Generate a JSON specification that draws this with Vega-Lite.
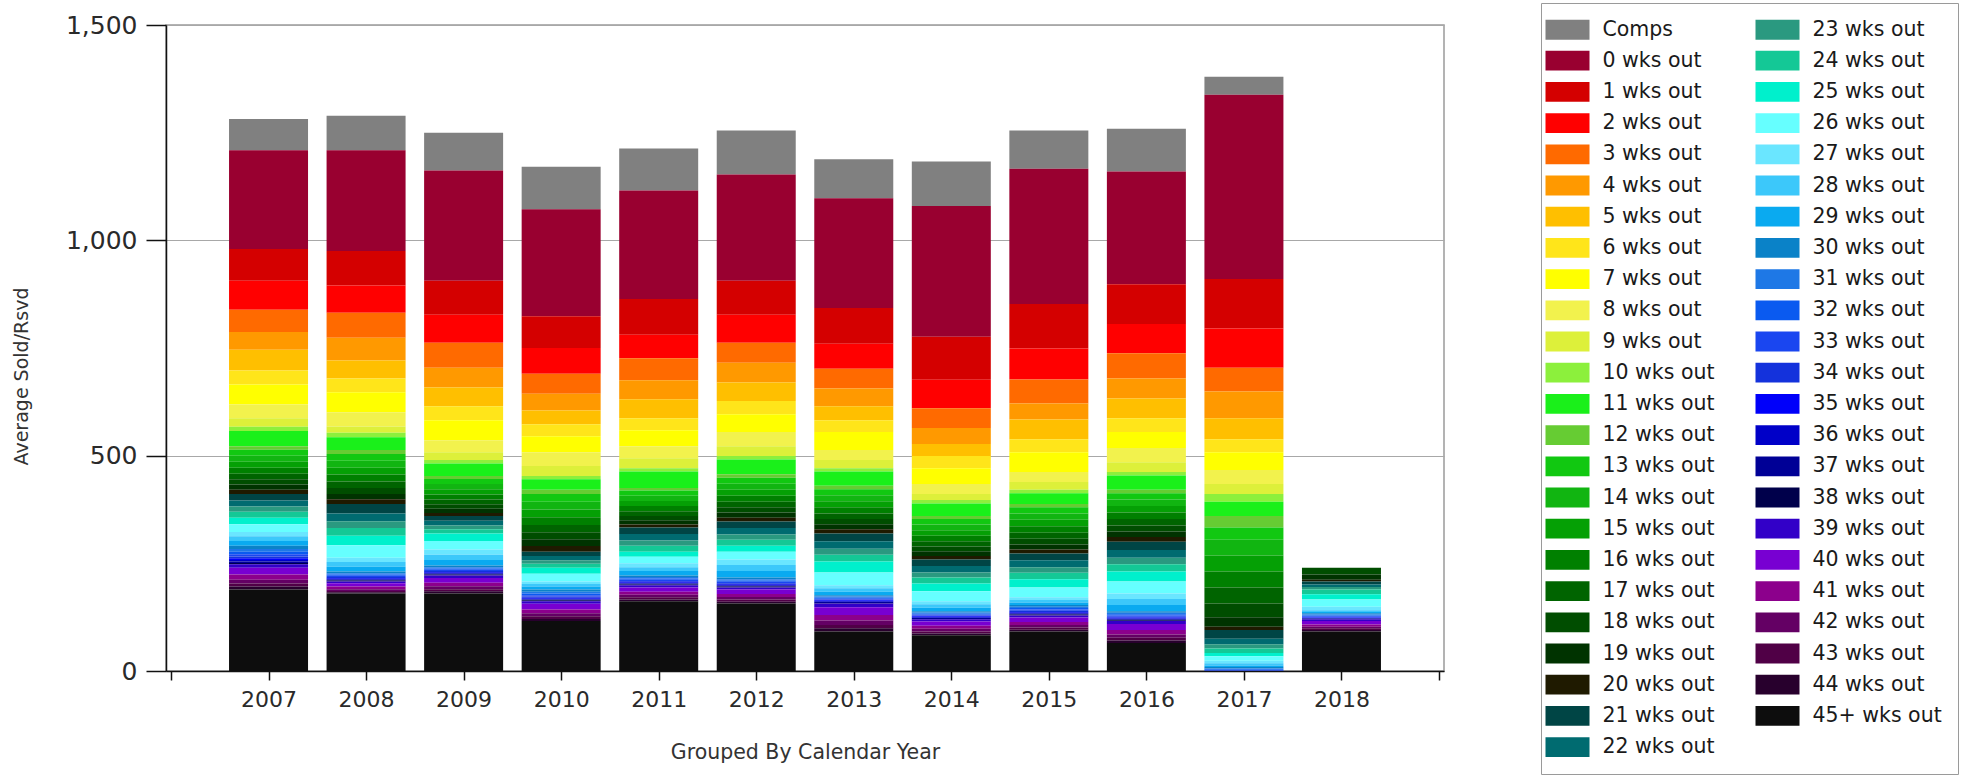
{
  "$schema": "https://vega.github.io/schema/vega-lite/v6.json",
  "width": 1278,
  "height": 646,
  "autosize": {"type": "none"},
  "padding": {"left": 166, "top": 25, "right": 537, "bottom": 104},
  "background": "white",
  "config": {
    "font": "DejaVu Sans",
    "view": {"stroke": "#9a9a9a", "strokeWidth": 1.5}
  },
  "datasets": {
    "series": [
      {"series": "Comps", "rank": 0}, {"series": "0 wks out", "rank": 1}, {"series": "1 wks out", "rank": 2},
      {"series": "2 wks out", "rank": 3}, {"series": "3 wks out", "rank": 4}, {"series": "4 wks out", "rank": 5},
      {"series": "5 wks out", "rank": 6}, {"series": "6 wks out", "rank": 7}, {"series": "7 wks out", "rank": 8},
      {"series": "8 wks out", "rank": 9}, {"series": "9 wks out", "rank": 10}, {"series": "10 wks out", "rank": 11},
      {"series": "11 wks out", "rank": 12}, {"series": "12 wks out", "rank": 13}, {"series": "13 wks out", "rank": 14},
      {"series": "14 wks out", "rank": 15}, {"series": "15 wks out", "rank": 16}, {"series": "16 wks out", "rank": 17},
      {"series": "17 wks out", "rank": 18}, {"series": "18 wks out", "rank": 19}, {"series": "19 wks out", "rank": 20},
      {"series": "20 wks out", "rank": 21}, {"series": "21 wks out", "rank": 22}, {"series": "22 wks out", "rank": 23},
      {"series": "23 wks out", "rank": 24}, {"series": "24 wks out", "rank": 25}, {"series": "25 wks out", "rank": 26},
      {"series": "26 wks out", "rank": 27}, {"series": "27 wks out", "rank": 28}, {"series": "28 wks out", "rank": 29},
      {"series": "29 wks out", "rank": 30}, {"series": "30 wks out", "rank": 31}, {"series": "31 wks out", "rank": 32},
      {"series": "32 wks out", "rank": 33}, {"series": "33 wks out", "rank": 34}, {"series": "34 wks out", "rank": 35},
      {"series": "35 wks out", "rank": 36}, {"series": "36 wks out", "rank": 37}, {"series": "37 wks out", "rank": 38},
      {"series": "38 wks out", "rank": 39}, {"series": "39 wks out", "rank": 40}, {"series": "40 wks out", "rank": 41},
      {"series": "41 wks out", "rank": 42}, {"series": "42 wks out", "rank": 43}, {"series": "43 wks out", "rank": 44},
      {"series": "44 wks out", "rank": 45}, {"series": "45+ wks out", "rank": 46}
    ]
  },
  "data": {
    "values": [
      {"year": 2007, "Comps": 73, "0 wks out": 229, "1 wks out": 74, "2 wks out": 67, "3 wks out": 52, "4 wks out": 41, "5 wks out": 48, "6 wks out": 33, "7 wks out": 46, "8 wks out": 32, "9 wks out": 20, "10 wks out": 10, "11 wks out": 35, "12 wks out": 8, "13 wks out": 14, "14 wks out": 14, "15 wks out": 14, "16 wks out": 14, "17 wks out": 13, "18 wks out": 12, "19 wks out": 12, "20 wks out": 10, "21 wks out": 15, "22 wks out": 14, "23 wks out": 12, "24 wks out": 14, "25 wks out": 15, "26 wks out": 18, "27 wks out": 10, "28 wks out": 11, "29 wks out": 11, "30 wks out": 8, "31 wks out": 6, "32 wks out": 6, "33 wks out": 5, "34 wks out": 4, "35 wks out": 4, "36 wks out": 4, "37 wks out": 3, "38 wks out": 3, "39 wks out": 8, "40 wks out": 16, "41 wks out": 12, "42 wks out": 9, "43 wks out": 7, "44 wks out": 7, "45+ wks out": 189},
      {"year": 2008, "Comps": 80, "0 wks out": 234, "1 wks out": 80, "2 wks out": 63, "3 wks out": 58, "4 wks out": 53, "5 wks out": 42, "6 wks out": 32, "7 wks out": 46, "8 wks out": 33, "9 wks out": 15, "10 wks out": 10, "11 wks out": 30, "12 wks out": 9, "13 wks out": 16, "14 wks out": 16, "15 wks out": 16, "16 wks out": 16, "17 wks out": 15, "18 wks out": 14, "19 wks out": 12, "20 wks out": 11, "21 wks out": 22, "22 wks out": 18, "23 wks out": 16, "24 wks out": 18, "25 wks out": 22, "26 wks out": 29, "27 wks out": 10, "28 wks out": 11, "29 wks out": 11, "30 wks out": 4, "31 wks out": 3, "32 wks out": 3, "33 wks out": 3, "34 wks out": 2, "35 wks out": 2, "36 wks out": 2, "37 wks out": 2, "38 wks out": 2, "39 wks out": 4, "40 wks out": 8, "41 wks out": 6, "42 wks out": 4, "43 wks out": 3, "44 wks out": 3, "45+ wks out": 180},
      {"year": 2009, "Comps": 88, "0 wks out": 256, "1 wks out": 79, "2 wks out": 65, "3 wks out": 58, "4 wks out": 46, "5 wks out": 43, "6 wks out": 33, "7 wks out": 46, "8 wks out": 28, "9 wks out": 18, "10 wks out": 8, "11 wks out": 29, "12 wks out": 7, "13 wks out": 12, "14 wks out": 12, "15 wks out": 12, "16 wks out": 12, "17 wks out": 11, "18 wks out": 10, "19 wks out": 10, "20 wks out": 7, "21 wks out": 11, "22 wks out": 11, "23 wks out": 9, "24 wks out": 10, "25 wks out": 17, "26 wks out": 20, "27 wks out": 12, "28 wks out": 12, "29 wks out": 13, "30 wks out": 4, "31 wks out": 3, "32 wks out": 3, "33 wks out": 3, "34 wks out": 2, "35 wks out": 2, "36 wks out": 2, "37 wks out": 2, "38 wks out": 2, "39 wks out": 6, "40 wks out": 11, "41 wks out": 8, "42 wks out": 7, "43 wks out": 5, "44 wks out": 5, "45+ wks out": 180},
      {"year": 2010, "Comps": 99, "0 wks out": 248, "1 wks out": 74, "2 wks out": 60, "3 wks out": 46, "4 wks out": 39, "5 wks out": 32, "6 wks out": 28, "7 wks out": 37, "8 wks out": 32, "9 wks out": 23, "10 wks out": 8, "11 wks out": 24, "12 wks out": 10, "13 wks out": 18, "14 wks out": 18, "15 wks out": 18, "16 wks out": 18, "17 wks out": 17, "18 wks out": 16, "19 wks out": 16, "20 wks out": 13, "21 wks out": 10, "22 wks out": 10, "23 wks out": 8, "24 wks out": 9, "25 wks out": 14, "26 wks out": 18, "27 wks out": 6, "28 wks out": 6, "29 wks out": 7, "30 wks out": 5, "31 wks out": 4, "32 wks out": 4, "33 wks out": 3, "34 wks out": 3, "35 wks out": 2, "36 wks out": 2, "37 wks out": 2, "38 wks out": 2, "39 wks out": 6, "40 wks out": 13, "41 wks out": 9, "42 wks out": 7, "43 wks out": 6, "44 wks out": 5, "45+ wks out": 116},
      {"year": 2011, "Comps": 97, "0 wks out": 252, "1 wks out": 83, "2 wks out": 55, "3 wks out": 51, "4 wks out": 44, "5 wks out": 44, "6 wks out": 28, "7 wks out": 37, "8 wks out": 28, "9 wks out": 23, "10 wks out": 8, "11 wks out": 38, "12 wks out": 6, "13 wks out": 12, "14 wks out": 12, "15 wks out": 12, "16 wks out": 12, "17 wks out": 11, "18 wks out": 10, "19 wks out": 10, "20 wks out": 7, "21 wks out": 15, "22 wks out": 15, "23 wks out": 12, "24 wks out": 14, "25 wks out": 12, "26 wks out": 15, "27 wks out": 9, "28 wks out": 9, "29 wks out": 10, "30 wks out": 4, "31 wks out": 3, "32 wks out": 3, "33 wks out": 3, "34 wks out": 2, "35 wks out": 2, "36 wks out": 2, "37 wks out": 2, "38 wks out": 2, "39 wks out": 5, "40 wks out": 10, "41 wks out": 7, "42 wks out": 6, "43 wks out": 5, "44 wks out": 4, "45+ wks out": 162},
      {"year": 2012, "Comps": 102, "0 wks out": 247, "1 wks out": 79, "2 wks out": 65, "3 wks out": 46, "4 wks out": 46, "5 wks out": 43, "6 wks out": 31, "7 wks out": 41, "8 wks out": 33, "9 wks out": 23, "10 wks out": 8, "11 wks out": 34, "12 wks out": 8, "13 wks out": 14, "14 wks out": 14, "15 wks out": 14, "16 wks out": 14, "17 wks out": 13, "18 wks out": 12, "19 wks out": 12, "20 wks out": 9, "21 wks out": 15, "22 wks out": 15, "23 wks out": 12, "24 wks out": 14, "25 wks out": 14, "26 wks out": 18, "27 wks out": 13, "28 wks out": 14, "29 wks out": 15, "30 wks out": 4, "31 wks out": 3, "32 wks out": 3, "33 wks out": 3, "34 wks out": 2, "35 wks out": 2, "36 wks out": 2, "37 wks out": 2, "38 wks out": 2, "39 wks out": 5, "40 wks out": 10, "41 wks out": 7, "42 wks out": 6, "43 wks out": 5, "44 wks out": 4, "45+ wks out": 157},
      {"year": 2013, "Comps": 90, "0 wks out": 255, "1 wks out": 83, "2 wks out": 58, "3 wks out": 46, "4 wks out": 41, "5 wks out": 33, "6 wks out": 27, "7 wks out": 42, "8 wks out": 23, "9 wks out": 19, "10 wks out": 8, "11 wks out": 33, "12 wks out": 8, "13 wks out": 14, "14 wks out": 14, "15 wks out": 14, "16 wks out": 14, "17 wks out": 13, "18 wks out": 12, "19 wks out": 12, "20 wks out": 10, "21 wks out": 18, "22 wks out": 17, "23 wks out": 14, "24 wks out": 16, "25 wks out": 25, "26 wks out": 30, "27 wks out": 7, "28 wks out": 8, "29 wks out": 8, "30 wks out": 3, "31 wks out": 3, "32 wks out": 2, "33 wks out": 2, "34 wks out": 2, "35 wks out": 2, "36 wks out": 2, "37 wks out": 2, "38 wks out": 1, "39 wks out": 9, "40 wks out": 18, "41 wks out": 13, "42 wks out": 10, "43 wks out": 8, "44 wks out": 7, "45+ wks out": 92},
      {"year": 2014, "Comps": 103, "0 wks out": 304, "1 wks out": 100, "2 wks out": 66, "3 wks out": 46, "4 wks out": 37, "5 wks out": 28, "6 wks out": 28, "7 wks out": 37, "8 wks out": 23, "9 wks out": 14, "10 wks out": 8, "11 wks out": 29, "12 wks out": 7, "13 wks out": 13, "14 wks out": 13, "15 wks out": 13, "16 wks out": 13, "17 wks out": 12, "18 wks out": 11, "19 wks out": 11, "20 wks out": 8, "21 wks out": 15, "22 wks out": 15, "23 wks out": 12, "24 wks out": 14, "25 wks out": 18, "26 wks out": 23, "27 wks out": 7, "28 wks out": 8, "29 wks out": 8, "30 wks out": 3, "31 wks out": 3, "32 wks out": 2, "33 wks out": 2, "34 wks out": 2, "35 wks out": 2, "36 wks out": 2, "37 wks out": 2, "38 wks out": 1, "39 wks out": 5, "40 wks out": 10, "41 wks out": 7, "42 wks out": 6, "43 wks out": 5, "44 wks out": 4, "45+ wks out": 83},
      {"year": 2015, "Comps": 89, "0 wks out": 314, "1 wks out": 103, "2 wks out": 72, "3 wks out": 56, "4 wks out": 37, "5 wks out": 46, "6 wks out": 30, "7 wks out": 46, "8 wks out": 23, "9 wks out": 18, "10 wks out": 8, "11 wks out": 25, "12 wks out": 8, "13 wks out": 14, "14 wks out": 15, "15 wks out": 15, "16 wks out": 15, "17 wks out": 14, "18 wks out": 13, "19 wks out": 12, "20 wks out": 9, "21 wks out": 16, "22 wks out": 16, "23 wks out": 13, "24 wks out": 15, "25 wks out": 19, "26 wks out": 23, "27 wks out": 6, "28 wks out": 6, "29 wks out": 6, "30 wks out": 4, "31 wks out": 3, "32 wks out": 3, "33 wks out": 3, "34 wks out": 3, "35 wks out": 2, "36 wks out": 2, "37 wks out": 2, "38 wks out": 2, "39 wks out": 5, "40 wks out": 10, "41 wks out": 7, "42 wks out": 6, "43 wks out": 5, "44 wks out": 4, "45+ wks out": 92},
      {"year": 2016, "Comps": 99, "0 wks out": 262, "1 wks out": 92, "2 wks out": 68, "3 wks out": 59, "4 wks out": 46, "5 wks out": 46, "6 wks out": 32, "7 wks out": 37, "8 wks out": 33, "9 wks out": 23, "10 wks out": 8, "11 wks out": 33, "12 wks out": 8, "13 wks out": 15, "14 wks out": 15, "15 wks out": 15, "16 wks out": 15, "17 wks out": 15, "18 wks out": 14, "19 wks out": 13, "20 wks out": 11, "21 wks out": 19, "22 wks out": 18, "23 wks out": 15, "24 wks out": 17, "25 wks out": 23, "26 wks out": 28, "27 wks out": 13, "28 wks out": 14, "29 wks out": 14, "30 wks out": 4, "31 wks out": 3, "32 wks out": 3, "33 wks out": 3, "34 wks out": 2, "35 wks out": 2, "36 wks out": 2, "37 wks out": 2, "38 wks out": 2, "39 wks out": 7, "40 wks out": 14, "41 wks out": 10, "42 wks out": 8, "43 wks out": 6, "44 wks out": 6, "45+ wks out": 65},
      {"year": 2017, "Comps": 42, "0 wks out": 428, "1 wks out": 115, "2 wks out": 91, "3 wks out": 55, "4 wks out": 62, "5 wks out": 49, "6 wks out": 30, "7 wks out": 41, "8 wks out": 33, "9 wks out": 23, "10 wks out": 18, "11 wks out": 33, "12 wks out": 27, "13 wks out": 28, "14 wks out": 37, "15 wks out": 37, "16 wks out": 37, "17 wks out": 37, "18 wks out": 32, "19 wks out": 22, "20 wks out": 8, "21 wks out": 20, "22 wks out": 13, "23 wks out": 10, "24 wks out": 10, "25 wks out": 8, "26 wks out": 10, "27 wks out": 6, "28 wks out": 5, "29 wks out": 4, "30 wks out": 3, "31 wks out": 2, "32 wks out": 2, "33 wks out": 1, "34 wks out": 1, "35 wks out": 0, "36 wks out": 0, "37 wks out": 0, "38 wks out": 0, "39 wks out": 0, "40 wks out": 0, "41 wks out": 0, "42 wks out": 0, "43 wks out": 0, "44 wks out": 0, "45+ wks out": 0},
      {"year": 2018, "Comps": 0, "0 wks out": 0, "1 wks out": 0, "2 wks out": 0, "3 wks out": 0, "4 wks out": 0, "5 wks out": 0, "6 wks out": 0, "7 wks out": 0, "8 wks out": 0, "9 wks out": 0, "10 wks out": 0, "11 wks out": 0, "12 wks out": 0, "13 wks out": 0, "14 wks out": 0, "15 wks out": 0, "16 wks out": 0, "17 wks out": 0, "18 wks out": 16, "19 wks out": 12, "20 wks out": 4, "21 wks out": 7, "22 wks out": 6, "23 wks out": 6, "24 wks out": 11, "25 wks out": 12, "26 wks out": 17, "27 wks out": 8, "28 wks out": 4, "29 wks out": 3, "30 wks out": 3, "31 wks out": 2, "32 wks out": 2, "33 wks out": 2, "34 wks out": 1, "35 wks out": 1, "36 wks out": 1, "37 wks out": 1, "38 wks out": 1, "39 wks out": 4, "40 wks out": 8, "41 wks out": 5, "42 wks out": 4, "43 wks out": 4, "44 wks out": 3, "45+ wks out": 92}
    ]
  },
  "transform": [
    {
      "fold": ["Comps", "0 wks out", "1 wks out", "2 wks out", "3 wks out", "4 wks out", "5 wks out", "6 wks out", "7 wks out", "8 wks out", "9 wks out", "10 wks out", "11 wks out", "12 wks out", "13 wks out", "14 wks out", "15 wks out", "16 wks out", "17 wks out", "18 wks out", "19 wks out", "20 wks out", "21 wks out", "22 wks out", "23 wks out", "24 wks out", "25 wks out", "26 wks out", "27 wks out", "28 wks out", "29 wks out", "30 wks out", "31 wks out", "32 wks out", "33 wks out", "34 wks out", "35 wks out", "36 wks out", "37 wks out", "38 wks out", "39 wks out", "40 wks out", "41 wks out", "42 wks out", "43 wks out", "44 wks out", "45+ wks out"],
      "as": ["series", "value"]
    },
    {"lookup": "series", "from": {"data": {"name": "series"}, "key": "series", "fields": ["rank"]}}
  ],
  "mark": {"type": "bar", "size": 79},
  "encoding": {
    "x": {
      "field": "year",
      "type": "quantitative",
      "scale": {"domain": [2006, 2019], "nice": false, "zero": false},
      "axis": {
        "values": [2006, 2007, 2008, 2009, 2010, 2011, 2012, 2013, 2014, 2015, 2016, 2017, 2018, 2019],
        "format": "d",
        "labelExpr": "datum.value == 2006 || datum.value == 2019 ? '' : datum.label",
        "grid": false,
        "domainColor": "#111111",
        "domainWidth": 1.5,
        "tickColor": "#111111",
        "tickWidth": 1.5,
        "tickSize": 9,
        "labelPadding": 9,
        "labelFontSize": 22,
        "labelColor": "#2a2a2a",
        "labelFlush": false,
        "title": "Grouped By Calendar Year",
        "titleFontSize": 20.5,
        "titleFontWeight": "normal",
        "titleColor": "#333333",
        "titlePadding": 32
      }
    },
    "y": {
      "field": "value",
      "type": "quantitative",
      "stack": "zero",
      "scale": {"domain": [0, 1500], "nice": false},
      "axis": {
        "values": [0, 500, 1000, 1500],
        "format": ",d",
        "grid": true,
        "gridColor": "#a8a8a8",
        "gridWidth": 1.2,
        "domainColor": "#111111",
        "domainWidth": 1.5,
        "tickColor": "#111111",
        "tickWidth": 1.5,
        "tickSize": 20,
        "labelPadding": 9,
        "labelFontSize": 25,
        "labelColor": "#2a2a2a",
        "title": "Average Sold/Rsvd",
        "titleFontSize": 19,
        "titleFontWeight": "normal",
        "titleColor": "#333333",
        "titlePadding": 34,
        "titleY": 351
      }
    },
    "color": {
      "field": "series",
      "type": "nominal",
      "scale": {
        "domain": ["Comps", "0 wks out", "1 wks out", "2 wks out", "3 wks out", "4 wks out", "5 wks out", "6 wks out", "7 wks out", "8 wks out", "9 wks out", "10 wks out", "11 wks out", "12 wks out", "13 wks out", "14 wks out", "15 wks out", "16 wks out", "17 wks out", "18 wks out", "19 wks out", "20 wks out", "21 wks out", "22 wks out", "23 wks out", "24 wks out", "25 wks out", "26 wks out", "27 wks out", "28 wks out", "29 wks out", "30 wks out", "31 wks out", "32 wks out", "33 wks out", "34 wks out", "35 wks out", "36 wks out", "37 wks out", "38 wks out", "39 wks out", "40 wks out", "41 wks out", "42 wks out", "43 wks out", "44 wks out", "45+ wks out"],
        "range": ["#808080", "#990030", "#D40000", "#FF0000", "#FF6A00", "#FF9900", "#FFBF00", "#FFE51A", "#FFFF00", "#F2F24D", "#DDF03A", "#8CF03C", "#1AF01A", "#66CC33", "#11C811", "#11B511", "#05A005", "#008000", "#006400", "#004D00", "#003300", "#1F1A00", "#004545", "#006B70", "#2A9980", "#14C896", "#00F0CC", "#66FFFF", "#6AE6FF", "#3CC8FA", "#0AAAF0", "#0A82C8", "#1E78E6", "#0A5AF0", "#1A46F0", "#1432DC", "#0000FA", "#0000C8", "#000096", "#00004B", "#3200C8", "#7800D2", "#8C008C", "#640064", "#500046", "#28002D", "#0D0D0D"]
      },
      "legend": {
        "title": null,
        "orient": "none",
        "legendX": 1375,
        "legendY": -22,
        "columns": 2,
        "columnPadding": 40,
        "rowPadding": 9.2,
        "padding": 15.5,
        "symbolLimit": 0,
        "strokeColor": "#9a9a9a",
        "fillColor": "white",
        "symbolType": "M-2,-0.9H2V0.9H-2Z",
        "symbolSize": 484,
        "symbolStrokeWidth": 0,
        "symbolOpacity": 1,
        "labelFontSize": 20.5,
        "labelColor": "#1a1a1a",
        "labelOffset": 24,
        "labelLimit": 300
      }
    },
    "order": {"field": "rank", "type": "quantitative", "sort": "descending"}
  }
}
